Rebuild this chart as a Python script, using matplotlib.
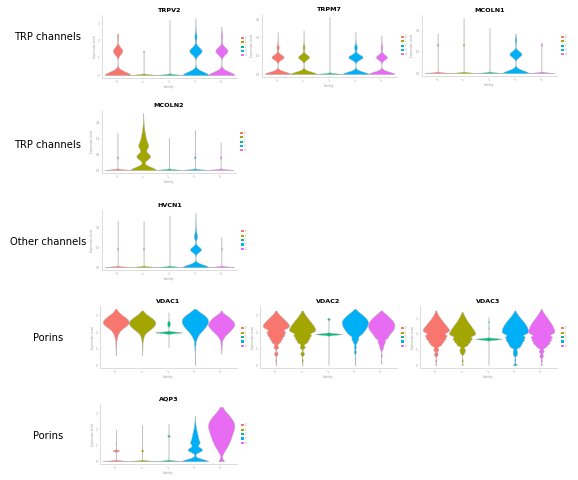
import numpy as np
import matplotlib
matplotlib.use('Agg')
import matplotlib.pyplot as plt
from matplotlib.patches import Patch
from matplotlib.ticker import MaxNLocator

# clusters (Identity) and ggplot default hues
clusters = ['0', '1', '2', '3', '4']
colors = ['#F8766D', '#A3A500', '#00BF7D', '#00B0F6', '#E76BF3']

# expression level -> number of cells, one dict per cluster
TRPV2 = [
    {0: 900, 1.4: 330, 2.2: 40, 2.4: 5},
    {0: 1000, 1.4: 80},
    {0: 1000, 1.4: 5, 2.2: 1, 3.2: 1},
    {0: 900, 1.4: 430, 2.2: 70, 2.5: 15, 2.9: 3, 3.3: 1},
    {0: 900, 1.4: 420, 2.2: 50, 2.5: 8, 2.8: 2},
]
TRPM7 = [
    {0: 900, 1.4: 420, 2.2: 80, 2.7: 8, 3.45: 2},
    {0: 900, 1.4: 380, 2.2: 70, 2.7: 6, 3.6: 1},
    {0: 1000, 1.4: 4, 4.7: 1},
    {0: 900, 1.4: 500, 2.2: 100, 2.7: 10, 3.5: 2},
    {0: 900, 1.4: 380, 2.2: 60, 2.7: 5, 3.2: 1},
]
MCOLN1 = [
    {0: 1000, 2.0: 70, 2.8: 1},
    {0: 1000, 2.0: 70, 3.9: 1},
    {0: 1000, 1.4: 2, 3.2: 1},
    {0: 900, 1.35: 420, 2.3: 50, 2.5: 10, 2.8: 2},
    {0: 1000, 2.0: 70, 2.2: 1},
]
MCOLN2 = [
    {0: 1000, 0.65: 70, 1.9: 1},
    {0: 900, 0.7: 480, 1.2: 290, 1.45: 150, 1.7: 100, 1.95: 60, 2.2: 30, 2.45: 15, 2.7: 6, 2.9: 2},
    {0: 1000, 0.65: 3, 1.65: 1},
    {0: 1000, 0.65: 70, 2.05: 1},
    {0: 1000, 0.65: 70, 1.4: 1},
]
HVCN1 = [
    {0: 1000, 1.4: 60, 3.5: 1},
    {0: 1000, 1.4: 60, 3.5: 1},
    {0: 1000, 1.4: 2, 3.9: 1},
    {0: 900, 1.35: 380, 2.3: 110, 2.7: 35, 3.1: 15, 3.5: 6, 3.8: 2, 4.1: 1},
    {0: 1000, 1.4: 60, 2.3: 1},
]
VDAC1 = [
    {3.4: 3, 3.2: 15, 3.0: 40, 2.8: 65, 2.6: 80, 2.4: 65, 2.2: 35, 2.0: 18, 1.8: 10, 1.6: 6, 1.3: 4, 1.0: 3, 0.6: 2},
    {3.3: 4, 3.1: 20, 2.9: 50, 2.7: 75, 2.5: 80, 2.3: 65, 2.1: 40, 1.9: 15, 1.7: 8, 1.5: 5, 1.2: 3, 0.9: 2, 0.6: 1},
    {1.98: 1000, 2.35: 40, 2.42: 70, 2.5: 90, 2.58: 70, 2.65: 40, 3.2: 1, 1.5: 2, 1.08: 1},
    {3.4: 4, 3.2: 30, 3.0: 60, 2.8: 78, 2.6: 80, 2.4: 70, 2.2: 55, 2.0: 35, 1.8: 20, 1.6: 12, 1.3: 6, 1.0: 4, 0.6: 2, 0.2: 1, 0.0: 1},
    {3.3: 3, 3.0: 30, 2.8: 50, 2.6: 65, 2.4: 70, 2.2: 55, 2.0: 40, 1.8: 20, 1.6: 10, 1.3: 5, 1.0: 3, 0.7: 1},
]
VDAC2 = [
    {3.3: 3, 3.2: 8, 3.1: 15, 3.0: 25, 2.9: 35, 2.8: 45, 2.7: 55, 2.6: 65, 2.5: 73, 2.4: 80, 2.3: 76, 2.2: 70,
     2.0: 110, 1.8: 94, 1.6: 68, 1.4: 51, 1.1: 31, 0.7: 25, 0.3: 7, 0.0: 5},
    {3.3: 3, 3.2: 8, 3.1: 13, 3.0: 20, 2.9: 27, 2.8: 35, 2.7: 42, 2.6: 50, 2.5: 57, 2.4: 65, 2.3: 70, 2.2: 75,
     2.1: 78, 2.0: 80, 1.8: 100, 1.6: 77, 1.4: 60, 1.1: 34, 0.7: 25, 0.3: 8, 0.0: 5},
    {1.88: 1000, 2.78: 100, 2.88: 2, 2.3: 3, 1.2: 1, 0.6: 1, 0.0: 1},
    {3.4: 3, 3.3: 12, 3.2: 25, 3.1: 38, 3.0: 50, 2.9: 60, 2.8: 70, 2.7: 76, 2.6: 80, 2.5: 78, 2.4: 75, 2.3: 70,
     2.2: 65, 2.1: 57, 2.0: 50, 1.9: 42, 1.8: 35, 1.6: 42, 1.4: 25, 1.1: 14, 0.8: 14, 0.4: 5, 0.0: 3},
    {3.3: 3, 3.2: 12, 3.1: 25, 3.0: 35, 2.9: 45, 2.8: 55, 2.7: 65, 2.6: 70, 2.5: 75, 2.4: 75, 2.3: 75, 2.2: 72,
     2.1: 65, 2.0: 58, 1.9: 50, 1.8: 42, 1.7: 38, 1.6: 35, 1.4: 42, 1.2: 25, 1.0: 17, 0.6: 8, 0.1: 5},
]
VDAC3 = [
    {3.5: 2, 3.4: 5, 3.3: 9, 3.2: 14, 3.1: 20, 3.0: 26, 2.9: 33, 2.8: 40, 2.7: 48, 2.6: 55, 2.5: 62, 2.4: 70,
     2.3: 75, 2.2: 80, 2.1: 78, 1.9: 125, 1.7: 110, 1.5: 85, 1.3: 60, 1.0: 34, 0.7: 25, 0.3: 8, 0.0: 7},
    {3.4: 3, 3.3: 6, 3.2: 10, 3.1: 15, 3.0: 20, 2.9: 25, 2.8: 30, 2.7: 37, 2.6: 44, 2.5: 50, 2.4: 56, 2.3: 62,
     2.2: 68, 2.1: 73, 2.0: 77, 1.9: 80, 1.7: 110, 1.5: 85, 1.3: 60, 1.0: 34, 0.8: 25, 0.3: 8, 0.0: 7},
    {1.68: 1000, 2.78: 40, 2.38: 30, 3.08: 1, 0.8: 1, 0.0: 1},
    {3.5: 2, 3.4: 6, 3.3: 12, 3.2: 18, 3.1: 25, 3.0: 32, 2.9: 40, 2.8: 47, 2.7: 54, 2.6: 60, 2.5: 65, 2.4: 70,
     2.3: 72, 2.2: 74, 2.1: 75, 2.0: 75, 1.8: 110, 1.6: 100, 1.4: 77, 1.2: 60, 0.9: 25, 0.7: 25, 0.35: 8, 0.0: 25},
    {3.6: 2, 3.5: 6, 3.4: 11, 3.3: 17, 3.2: 24, 3.1: 30, 3.0: 37, 2.9: 44, 2.8: 51, 2.7: 57, 2.6: 63, 2.5: 68,
     2.4: 72, 2.3: 76, 2.2: 79, 2.1: 80, 2.0: 78, 1.8: 128, 1.6: 110, 1.4: 94, 1.2: 60, 0.9: 34, 0.6: 25, 0.3: 8, 0.0: 8},
]
AQP3 = [
    {0: 1000, 0.67: 250, 1.06: 30, 1.98: 1},
    {0: 1000, 0.67: 90, 2.27: 1},
    {0: 1000, 1.6: 100, 2.37: 1},
    {0: 900, 0.73: 500, 1.17: 300, 1.45: 170, 1.7: 130, 1.95: 80, 2.2: 45, 2.45: 22, 2.7: 8, 2.85: 3},
    {0: 22, 0.45: 8, 0.65: 15, 0.85: 25, 1.05: 33, 1.25: 40, 1.45: 45, 1.65: 50, 1.85: 55, 2.05: 60,
     2.25: 62, 2.45: 58, 2.65: 50, 2.85: 38, 3.05: 25, 3.25: 12, 3.42: 4},
]

row_labels = ['TRP channels', 'TRP channels', 'Other channels', 'Porins', 'Porins']

# layout, in pixels of the 578x480 figure
W, H = 578, 480
label_y = [37, 145, 242, 338, 436]
panels = [
    ('TRPV2', TRPV2, 0.20, (102, 15, 237, 78)),
    ('TRPM7', TRPM7, 0.20, (262, 14, 397, 77)),
    ('MCOLN1', MCOLN1, 0.20, (422, 15, 557, 76)),
    ('MCOLN2', MCOLN2, 0.16, (102, 110, 236, 173)),
    ('HVCN1', HVCN1, 0.20, (102, 210, 237, 270)),
    ('VDAC1', VDAC1, 0.12, (100, 306, 237, 368)),
    ('VDAC2', VDAC2, 0.09, (260, 306, 397, 368)),
    ('VDAC3', VDAC3, 0.09, (420, 306, 557, 368)),
    ('AQP3', AQP3, 0.14, (100, 404, 237, 464)),
]

AXIS_GREY = '#cfcfcf'
TEXT_GREY = '#9a9a9a'


def draw_panel(ax, title, violins, bw):
    samples = [np.repeat(list(v.keys()), list(v.values())).astype(float) for v in violins]
    lo = min(s.min() for s in samples)
    hi = max(s.max() for s in samples)
    rng = hi - lo
    floor = 0.012 * rng

    # ggplot-like: groups that are mostly one value get a very narrow kernel
    def bw_rule(kde):
        d = kde.dataset.ravel()
        q1, q3 = np.percentile(d, [25, 75])
        b = bw if q3 > q1 else floor
        return b / d.std(ddof=1)

    parts = ax.violinplot(samples, positions=range(1, 6), widths=1.0,
                          showextrema=False, points=700, bw_method=bw_rule)
    for body, c in zip(parts['bodies'], colors):
        body.set_facecolor(c)
        body.set_edgecolor('#b5b5b5')
        body.set_linewidth(0.3)
        body.set_alpha(1)

    ax.set_xlim(0.4, 5.6)
    ax.set_ylim(lo - 0.05 * rng, hi + 0.05 * rng)
    ax.set_xticks(range(1, 6), clusters, rotation=45)
    ax.yaxis.set_major_locator(MaxNLocator(4))
    ax.tick_params(length=1, width=0.3, color=AXIS_GREY, labelsize=2,
                   labelcolor=TEXT_GREY, pad=0.5)
    for side in ['top', 'right']:
        ax.spines[side].set_visible(False)
    for side in ['left', 'bottom']:
        ax.spines[side].set_color(AXIS_GREY)
        ax.spines[side].set_linewidth(0.5)
    ax.set_ylabel('Expression Level', fontsize=2, labelpad=1, color=TEXT_GREY)
    ax.set_xlabel('Identity', fontsize=2, labelpad=0.5, color=TEXT_GREY)
    ax.set_title(title, fontsize=4.6, fontweight='bold', pad=2.5)

    handles = [Patch(facecolor=c) for c in colors]
    ax.legend(handles, clusters, loc='center left', bbox_to_anchor=(1.02, 0.5),
              fontsize=1.8, frameon=False, handlelength=1.2, handleheight=0.9,
              labelspacing=0.15, borderpad=0, handletextpad=0.4, labelcolor=TEXT_GREY)


fig = plt.figure(figsize=(W / 100, H / 100), dpi=100)

for name, data, bw, (x0, y0, x1, y1) in panels:
    ax = fig.add_axes([x0 / W, 1 - y1 / H, (x1 - x0) / W, (y1 - y0) / H])
    draw_panel(ax, name, data, bw)

for text, y in zip(row_labels, label_y):
    fig.text(48 / W, 1 - y / H, text, ha='center', va='center', fontsize=7.2)

fig.savefig('out.png', dpi=100)
